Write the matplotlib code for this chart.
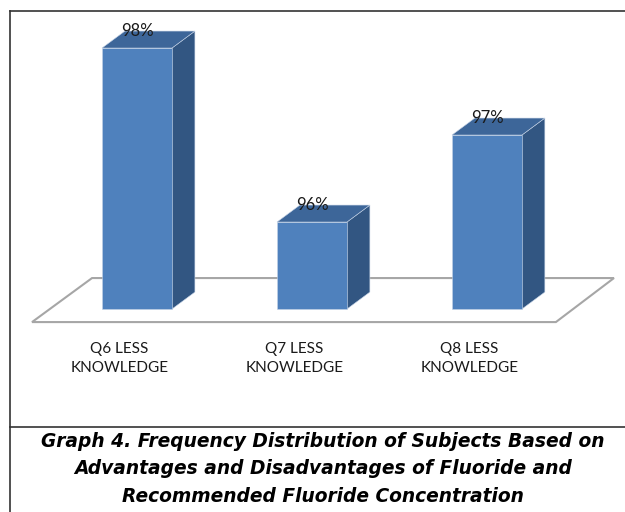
import numpy as np
import matplotlib.pyplot as plt
from matplotlib.patches import Polygon
from matplotlib.lines import Line2D

categories = ["Q6 LESS\nKNOWLEDGE", "Q7 LESS\nKNOWLEDGE", "Q8 LESS\nKNOWLEDGE"]
values = [98, 96, 97]
labels = ["98%", "96%", "97%"]
caption = ("Graph 4. Frequency Distribution of Subjects Based on\n"
           "Advantages and Disadvantages of Fluoride and\n"
           "Recommended Fluoride Concentration")

base = 95.0
width = 0.4
dx, dy = 0.131, 0.195   # depth offset of the 3d boxes

front_c = "#4f81bd"
side_c = "#325682"
top_c = "#3d6699"

fig = plt.figure(figsize=(6.25, 5.12), dpi=100)
ax = fig.add_axes([0, 0, 1, 1])
ax.set_xlim(-0.783, 2.789)
ax.set_ylim(92.667, 98.552)
ax.axis("off")

# floor
fl = [(-0.6, 94.85), (2.394, 94.85), (2.726, 95.356), (-0.257, 95.356)]
ax.add_patch(Polygon(fl, closed=True, facecolor="white", edgecolor="#a6a6a6", lw=1.5, zorder=1))

x = np.arange(len(values))
for xi, v in zip(x, values):
    l, r = xi - width / 2, xi + width / 2
    side = [(r, base), (r + dx, base + dy), (r + dx, v + dy), (r, v)]
    top = [(l, v), (r, v), (r + dx, v + dy), (l + dx, v + dy)]
    ax.add_patch(Polygon(side, closed=True, facecolor=side_c, edgecolor="#c5d3e6", lw=0.4, zorder=2))
    ax.add_patch(Polygon(top, closed=True, facecolor=top_c, edgecolor="#c5d3e6", lw=0.4, zorder=2))

ax.bar(x, np.array(values) - base, bottom=base, width=width, color=front_c,
       edgecolor="#c5d3e6", linewidth=0.4, zorder=3)

for xi, v, t in zip(x, values, labels):
    ax.text(xi, v + dy, t, ha="center", va="center", fontsize=12,
            family="Lato", color="#1a1a1a", zorder=4)

for xi, c in zip(x, categories):
    ax.text(xi - 0.1, 94.43, c, ha="center", va="center", fontsize=11,
            family="Lato", color="#1a1a1a", linespacing=1.4)

# frame around the figure and the caption block
fig.add_artist(Line2D([9.5 / 625, 9.5 / 625], [0, 1 - 10.5 / 512], color="#333333", lw=1.2))
fig.add_artist(Line2D([9.5 / 625, 1], [1 - 10.5 / 512, 1 - 10.5 / 512], color="#333333", lw=1.2))
fig.add_artist(Line2D([9.5 / 625, 1], [1 - 427 / 512, 1 - 427 / 512], color="#333333", lw=1.2))

fig.text(323 / 625, 1 - 469 / 512, caption, ha="center", va="center", fontsize=13.4,
         family="DejaVu Sans", weight="bold", style="italic", linespacing=1.55)

fig.savefig("out.png", dpi=100)
